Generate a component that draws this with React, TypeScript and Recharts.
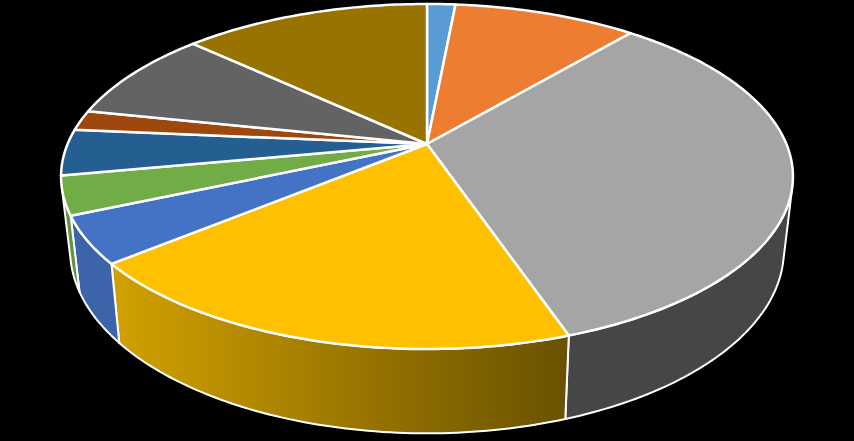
import React from 'react';
import { PieChart, Pie } from 'recharts';

const categories = ['A', 'B', 'C', 'D', 'E', 'F', 'G', 'H', 'I', 'J'];
const values = [1.5, 9.7, 33.5, 19.3, 4.4, 3.6, 4.3, 1.9, 8.6, 13.1];
const topColors = ['#5B9BD5', '#ED7D31', '#A5A5A5', '#FFC000', '#4472C4', '#70AD47', '#255E91', '#9E480E', '#636363', '#997300'];
const wallColors = ['#44739f', '#b25e25', '#464646', 'url(#yellowWall)', '#3b64ab', '#5f953c', '#1c476d', '#77360b', '#4a4a4a', '#735600'];

const data = categories.map((name, i) => ({ name, value: values[i], topColor: topColors[i], wallColor: wallColors[i] }));

// perspective tilt of the disc: far edge shrinks, near edge grows
const TILT = 0.1884;
const top = { cy: 144, a: 359.4, b: 166.4 };
const bottom = { cy: 215.6, a: 350.5, b: 176.7 };

type Plane = typeof top;

// angle is in recharts degrees (90 = 12 o'clock, decreasing clockwise)
const project = (plane: Plane, cx: number, angle: number) => {
  const rad = (angle * Math.PI) / 180;
  const x = Math.cos(rad);
  const y = -Math.sin(rad);
  const w = 1 - TILT * y;
  return [cx + (plane.a * x) / w, plane.cy + (plane.b * y) / w];
};

const anglesBetween = (start: number, end: number) => {
  const steps = Math.max(2, Math.ceil(Math.abs(end - start)));
  const list: number[] = [];
  for (let i = 0; i <= steps; i++) list.push(start + ((end - start) * i) / steps);
  return list;
};

const toPath = (points: number[][]) => points.map((p, i) => `${i ? 'L' : 'M'}${p[0].toFixed(2)},${p[1].toFixed(2)}`).join(' ');

const TopFace = (props: any) => {
  const { cx, startAngle, endAngle, payload } = props;
  const arc = anglesBetween(startAngle, endAngle).map((a) => project(top, cx, a));
  const d = `M${cx},${top.cy} ${toPath(arc).replace('M', 'L')} Z`;
  return <path d={d} fill={payload.topColor} stroke="#fff" strokeWidth={2.5} strokeLinejoin="round" />;
};

// a wall step faces the viewer when the edge runs the right way round the vertical
const facesViewer = (cx: number, angle: number) => {
  const p = project(top, cx, angle);
  const q = project(top, cx, angle - 0.5);
  const r = project(bottom, cx, angle);
  return (q[0] - p[0]) * (r[1] - p[1]) - (q[1] - p[1]) * (r[0] - p[0]) < 0;
};

const WallFace = (props: any) => {
  const { cx, startAngle, endAngle, payload } = props;
  const angles = anglesBetween(startAngle, endAngle).filter((a) => facesViewer(cx, a));
  if (angles.length < 2) return <g />;
  const upper = angles.map((a) => project(top, cx, a));
  const lower = angles.map((a) => project(bottom, cx, a)).reverse();
  return <path d={`${toPath([...upper, ...lower])} Z`} fill={payload.wallColor} stroke="#fff" strokeWidth={2} strokeLinejoin="round" />;
};

export default function App() {
  return (
    <div style={{ position: 'absolute', left: 0, top: 0, width: 854, height: 441, background: '#000', overflow: 'hidden' }}>
      <PieChart width={854} height={441} margin={{ top: 0, right: 0, bottom: 0, left: 0 }}>
        <defs>
          <linearGradient id="yellowWall" gradientUnits="userSpaceOnUse" x1="112" y1="0" x2="568" y2="0">
            <stop offset="0%" stopColor="#D2A100" />
            <stop offset="100%" stopColor="#695100" />
          </linearGradient>
        </defs>
        <Pie data={data} dataKey="value" nameKey="name" cx={427} cy={144} outerRadius={140} startAngle={90} endAngle={-270} paddingAngle={0} shape={WallFace} isAnimationActive={false} />
        <Pie data={data} dataKey="value" nameKey="name" cx={427} cy={144} outerRadius={140} startAngle={90} endAngle={-270} paddingAngle={0} shape={TopFace} isAnimationActive={false} />
      </PieChart>
    </div>
  );
}
